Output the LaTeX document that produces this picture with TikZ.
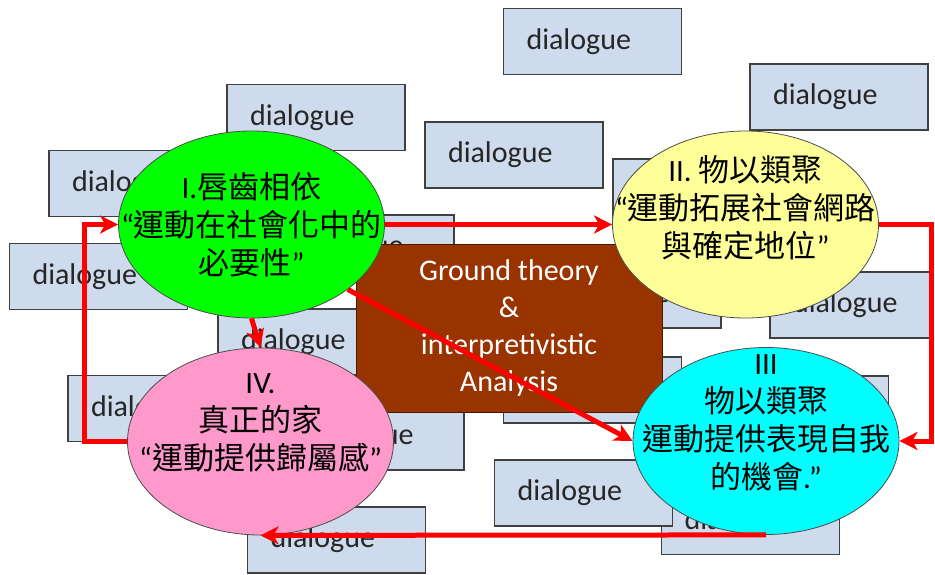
\documentclass[tikz,border=0pt]{standalone}
\usepackage{fontspec}
\setmainfont{Carlito}
\newfontfamily\cjk{Noto Sans CJK TC}
\usetikzlibrary{arrows.meta,shapes.geometric}

\definecolor{boxblue}{RGB}{205,219,236}
\definecolor{brickred}{RGB}{153,51,0}
\definecolor{lightyellow}{RGB}{255,255,153}
\definecolor{lightpink}{RGB}{255,153,204}
\definecolor{aqua}{RGB}{0,255,255}
\definecolor{lime}{RGB}{0,255,0}
\newcommand{\latn}[1]{{\rmfamily #1}}

\begin{document}
\begin{tikzpicture}[x=1pt,y=-1pt,
  dlg/.style={draw=black!75,line width=1.5pt,fill=boxblue,minimum height=66pt,
    inner xsep=23pt,inner ysep=0pt,text width=132pt,align=left,text=black!85,
    font=\fontsize{30}{36}\selectfont},
  blob/.style={ellipse,draw=black!70,line width=0.8pt,minimum width=266pt,
    minimum height=187pt,inner sep=0pt},
  lbl/.style={align=center,font=\cjk\fontsize{31}{38}\selectfont},
  flow/.style={draw=red,line width=5pt,-{Stealth[length=18pt,width=18pt,inset=5pt]}}]

\useasboundingbox (0,0) rectangle (935,575);

% 1. Scatter the dialogue boxes in the background
\node[dlg] (d1) at (592.5,41.5) {dialogue};
\node[dlg] (d2) at (839,97) {dialogue};
\node[dlg] (d3) at (316,117.5) {dialogue};
\node[dlg] (d4) at (514,155) {dialogue};
\node[dlg] (d5) at (138,183.5) {dialogue};
\node[dlg] (d6) at (702,192) {dialogue};
\node[dlg] (d7) at (365,248) {dialogue};
\node[dlg] (d8) at (98.5,276.5) {dialogue};
\node[dlg] (d9) at (307,342) {dialogue};
\node[dlg] (d10) at (632,295) {dialogue};
\node[dlg,text width=114pt] (d11) at (850,305) {dialogue};
\node[dlg] (d12) at (592.5,390) {dialogue};
\node[dlg] (d13) at (157,408.5) {dialogue};
\node[dlg] (d14) at (375,437) {dialogue};
\node[dlg] (d15) at (799.5,409) {dialogue};
\node[dlg] (d17) at (750.5,521.5) {dialogue};
\node[dlg] (d16) at (583.5,493) {dialogue};
\node[dlg] (d18) at (336.5,540) {dialogue};

% 2. The method box in the middle
\node[draw=black!50!brickred,fill=brickred,minimum width=306pt,minimum height=168pt,
  text=white,align=center,font=\fontsize{30}{36.7}\selectfont] (core) at (509,328)
  {Ground theory\\\&\\interpretivistic\\Analysis};

% 3. The four stages (ellipse, then its text)
\node[blob,fill=lime] (s1) at (251.5,224.5) {};
\node[lbl] (t1) at (s1) {\latn{I.}唇齒相依\\\latn{“}運動在社會化中的\\必要性\latn{”}};

\node[blob,fill=lightyellow] (s2) at (745.5,224.5) {};
\node[lbl] (t2) at ([yshift=17pt]s2.center) {\latn{II.} 物以類聚\\\latn{“}運動拓展社會網路\\與確定地位\latn{”}};

\node[blob,fill=aqua] (s3) at (766,441) {};
\node[lbl] (t3) at ([yshift=18pt]s3.center) {\latn{III}\\物以類聚\\運動提供表現自我\\的機會\latn{.”}};

\node[blob,fill=lightpink] (s4) at (260.5,441.5) {};
\node[lbl] (t4) at ([yshift=19pt]s4.center) {\latn{IV.}\\真正的家\\\latn{“}運動提供歸屬感\latn{”}};

% 4. The red cycle between the stages
\draw[flow] (s1.east) -- (s2.west);
\draw[flow] (s2.east) -- ++(53,0) |- (s3.east);
\draw[flow] (s3.south) -- (s4.south);
\draw[flow] (s4.west) -- ++(-43,0) |- (s1.west);
\draw[flow] (s1.south) -- (s4.north); % short drop from I to IV
\draw[flow] (s1.-34) -- (s3.west); % across the method box

\end{tikzpicture}
\end{document}
